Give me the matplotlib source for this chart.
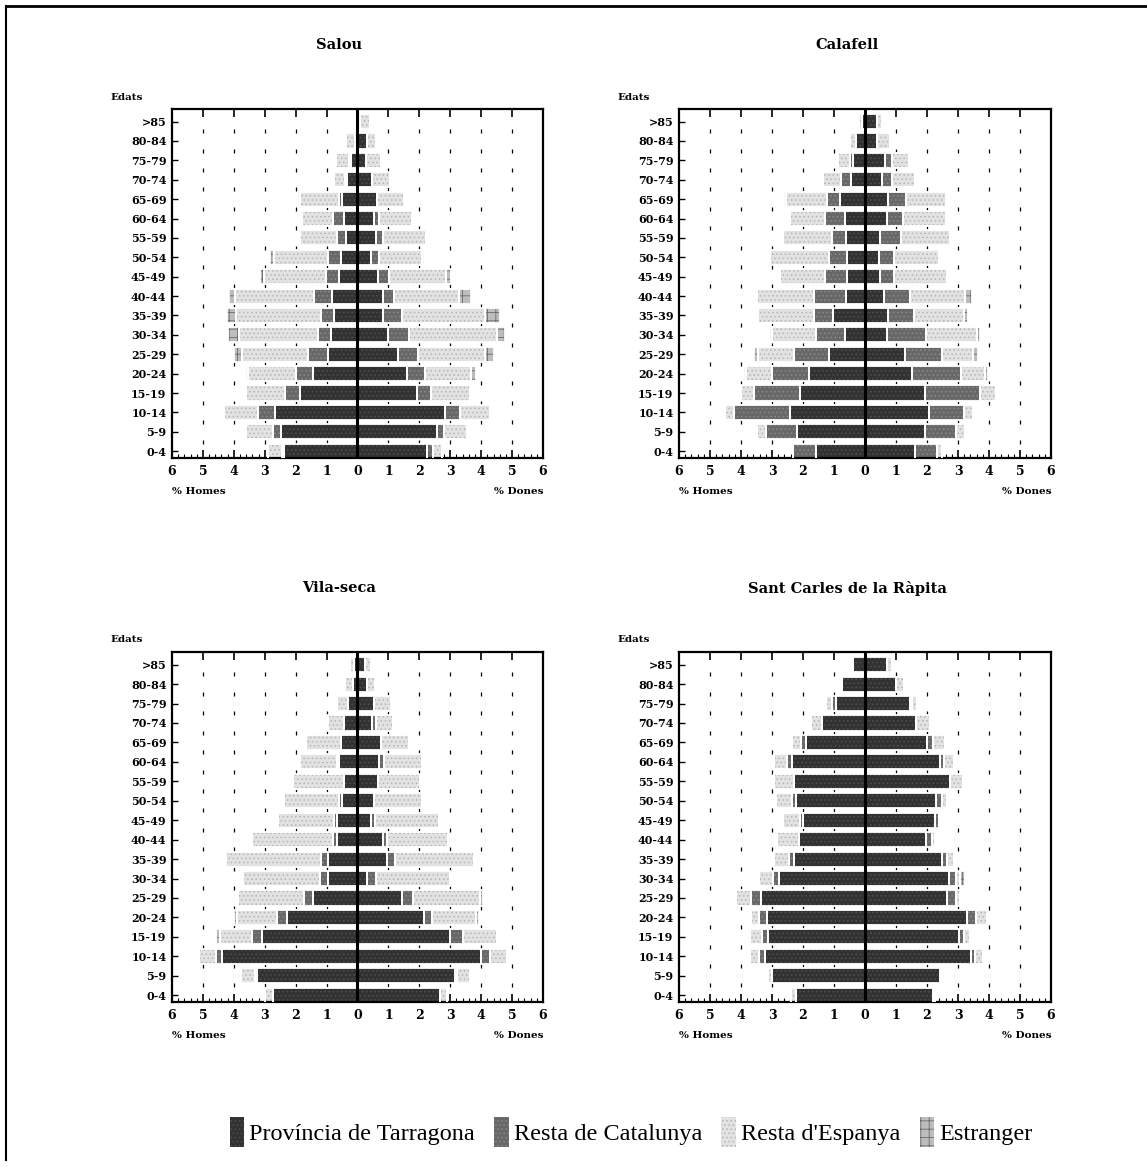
import numpy as np
import matplotlib.pyplot as plt
from matplotlib.patches import Patch
from matplotlib.lines import Line2D

# grups d'edat (de baix a dalt)
ages = ["0-4", "5-9", "10-14", "15-19", "20-24", "25-29", "30-34", "35-39", "40-44",
        "45-49", "50-54", "55-59", "60-64", "65-69", "70-74", "75-79", "80-84", ">85"]

# Salou - homes
salou_h_tarr = [2.37, 2.47, 2.67, 1.85, 1.43, 0.94, 0.86, 0.77, 0.83, 0.61, 0.54, 0.38, 0.43, 0.50, 0.34, 0.20, 0.08, 0.05]
salou_h_cat = [0.08, 0.25, 0.56, 0.49, 0.56, 0.65, 0.41, 0.41, 0.57, 0.41, 0.43, 0.29, 0.37, 0.09, 0.06, 0.09, 0.00, 0.00]
salou_h_esp = [0.45, 0.88, 1.09, 1.26, 1.54, 2.14, 2.55, 2.74, 2.56, 2.01, 1.72, 1.18, 1.00, 1.26, 0.35, 0.41, 0.29, 0.00]
salou_h_estr = [0.00, 0.00, 0.00, 0.00, 0.07, 0.27, 0.37, 0.30, 0.21, 0.11, 0.13, 0.00, 0.00, 0.09, 0.00, 0.00, 0.00, 0.00]
# Salou - dones
salou_d_tarr = [2.26, 2.56, 2.83, 1.94, 1.61, 1.32, 0.99, 0.84, 0.83, 0.67, 0.43, 0.60, 0.54, 0.62, 0.48, 0.27, 0.32, 0.08]
salou_d_cat = [0.19, 0.24, 0.48, 0.45, 0.56, 0.65, 0.69, 0.59, 0.35, 0.35, 0.27, 0.24, 0.16, 0.00, 0.00, 0.00, 0.00, 0.00]
salou_d_esp = [0.29, 0.73, 0.97, 1.24, 1.49, 2.17, 2.84, 2.71, 2.10, 1.83, 1.40, 1.36, 1.05, 0.88, 0.57, 0.50, 0.28, 0.32]
salou_d_estr = [0.00, 0.00, 0.00, 0.00, 0.16, 0.27, 0.26, 0.46, 0.38, 0.16, 0.05, 0.06, 0.00, 0.00, 0.00, 0.00, 0.00, 0.00]

# Calafell - homes
calafell_h_tarr = [1.59, 2.18, 2.42, 2.10, 1.82, 1.16, 0.64, 1.02, 0.62, 0.57, 0.59, 0.62, 0.65, 0.81, 0.44, 0.38, 0.28, 0.09]
calafell_h_cat = [0.73, 1.01, 1.82, 1.47, 1.19, 1.12, 0.95, 0.64, 1.02, 0.72, 0.57, 0.45, 0.65, 0.42, 0.34, 0.10, 0.00, 0.00]
calafell_h_esp = [0.00, 0.30, 0.29, 0.43, 0.83, 1.18, 1.41, 1.80, 1.85, 1.44, 1.89, 1.59, 1.11, 1.32, 0.57, 0.38, 0.20, 0.10]
calafell_h_estr = [0.00, 0.00, 0.00, 0.00, 0.05, 0.13, 0.05, 0.00, 0.03, 0.00, 0.04, 0.00, 0.00, 0.05, 0.00, 0.00, 0.00, 0.00]
# Calafell - dones
calafell_d_tarr = [1.60, 1.92, 2.06, 1.95, 1.52, 1.28, 0.72, 0.75, 0.61, 0.50, 0.45, 0.50, 0.72, 0.74, 0.56, 0.63, 0.40, 0.40]
calafell_d_cat = [0.73, 1.00, 1.12, 1.77, 1.59, 1.19, 1.26, 0.83, 0.84, 0.45, 0.48, 0.65, 0.51, 0.57, 0.32, 0.23, 0.00, 0.00]
calafell_d_esp = [0.14, 0.32, 0.30, 0.51, 0.77, 1.03, 1.63, 1.60, 1.79, 1.68, 1.45, 1.58, 1.37, 1.29, 0.72, 0.55, 0.40, 0.16]
calafell_d_estr = [0.00, 0.00, 0.00, 0.00, 0.09, 0.14, 0.11, 0.13, 0.21, 0.00, 0.00, 0.00, 0.00, 0.05, 0.00, 0.00, 0.00, 0.00]

# Vila-seca - homes
vilaseca_h_tarr = [2.74, 3.26, 4.38, 3.10, 2.28, 1.45, 0.94, 0.97, 0.67, 0.67, 0.51, 0.45, 0.59, 0.52, 0.43, 0.30, 0.16, 0.11]
vilaseca_h_cat = [0.00, 0.07, 0.19, 0.31, 0.32, 0.29, 0.26, 0.21, 0.11, 0.08, 0.10, 0.00, 0.08, 0.00, 0.00, 0.00, 0.00, 0.00]
vilaseca_h_esp = [0.26, 0.43, 0.57, 1.05, 1.29, 2.13, 2.51, 3.07, 2.64, 1.83, 1.78, 1.63, 1.19, 1.13, 0.54, 0.37, 0.24, 0.13]
vilaseca_h_estr = [0.00, 0.00, 0.00, 0.11, 0.09, 0.00, 0.00, 0.00, 0.00, 0.00, 0.00, 0.00, 0.00, 0.00, 0.00, 0.00, 0.00, 0.00]
# Vila-seca - dones
vilaseca_d_tarr = [2.67, 3.14, 4.01, 2.99, 2.15, 1.45, 0.32, 0.95, 0.81, 0.43, 0.54, 0.65, 0.70, 0.75, 0.48, 0.52, 0.30, 0.25]
vilaseca_d_cat = [0.00, 0.09, 0.29, 0.43, 0.25, 0.36, 0.27, 0.27, 0.14, 0.14, 0.00, 0.00, 0.16, 0.00, 0.11, 0.00, 0.00, 0.00]
vilaseca_d_esp = [0.23, 0.40, 0.54, 1.10, 1.42, 2.15, 2.40, 2.54, 1.97, 2.06, 1.56, 1.37, 1.24, 0.90, 0.57, 0.56, 0.27, 0.18]
vilaseca_d_estr = [0.00, 0.00, 0.00, 0.00, 0.10, 0.10, 0.00, 0.00, 0.00, 0.00, 0.00, 0.00, 0.00, 0.00, 0.00, 0.00, 0.00, 0.00]

# Sant Carles de la Ràpita - homes
rapita_h_tarr = [2.23, 3.01, 3.22, 3.12, 3.17, 3.35, 2.77, 2.30, 2.12, 1.99, 2.23, 2.30, 2.36, 1.91, 1.40, 0.94, 0.73, 0.39]
rapita_h_cat = [0.00, 0.00, 0.19, 0.21, 0.24, 0.33, 0.21, 0.14, 0.00, 0.11, 0.11, 0.00, 0.14, 0.16, 0.00, 0.14, 0.00, 0.00]
rapita_h_esp = [0.16, 0.13, 0.29, 0.37, 0.27, 0.48, 0.43, 0.51, 0.73, 0.54, 0.53, 0.63, 0.43, 0.27, 0.35, 0.18, 0.00, 0.05]
rapita_h_estr = [0.00] * 18
# Sant Carles de la Ràpita - dones
rapita_d_tarr = [2.20, 2.43, 3.42, 3.02, 3.29, 2.65, 2.70, 2.49, 1.98, 2.27, 2.30, 2.73, 2.43, 2.00, 1.66, 1.45, 1.01, 0.72]
rapita_d_cat = [0.00, 0.00, 0.14, 0.16, 0.30, 0.30, 0.25, 0.14, 0.19, 0.11, 0.17, 0.00, 0.11, 0.20, 0.00, 0.07, 0.00, 0.00]
rapita_d_esp = [0.07, 0.06, 0.24, 0.22, 0.34, 0.10, 0.10, 0.23, 0.10, 0.05, 0.18, 0.43, 0.34, 0.39, 0.45, 0.16, 0.24, 0.14]
rapita_d_estr = [0.00, 0.00, 0.00, 0.00, 0.00, 0.00, 0.17, 0.00, 0.00, 0.00, 0.00, 0.00, 0.00, 0.00, 0.00, 0.00, 0.00, 0.00]

origins = ["Província de Tarragona", "Resta de Catalunya", "Resta d'Espanya", "Estranger"]
face_cols = ["#323232", "#686868", "#e2e2e2", "#bdbdbd"]
hatch_cols = ["#505050", "#8a8a8a", "#b5b5b5", "#6a6a6a"]
hatches = ["....", "....", "....", "++"]

plt.rcParams['hatch.linewidth'] = 0.6
serif = "DejaVu Serif"

W, H = 1147, 1167
fig = plt.figure(figsize=(W / 100, H / 100), dpi=100)


def px_axes(x0, y0, x1, y1):
    # caixa en píxels (origen a dalt a l'esquerra)
    return fig.add_axes([x0 / W, 1 - y1 / H, (x1 - x0) / W, (y1 - y0) / H])


def pyramid(ax, homes, dones):
    y = np.arange(len(ages))
    cum_h = np.zeros(len(ages))
    cum_d = np.zeros(len(ages))
    for i in range(4):
        vh = np.array(homes[i])
        vd = np.array(dones[i])
        for v, cum, sgn in ((vh, cum_h, -1), (vd, cum_d, 1)):
            ax.barh(y, sgn * v, left=sgn * cum, height=0.78, color=face_cols[i],
                    hatch=hatches[i], edgecolor=hatch_cols[i], linewidth=0, zorder=2)
            ax.barh(y, sgn * v, left=sgn * cum, height=0.78, facecolor="none",
                    edgecolor="white", linewidth=1.3, zorder=3)
        cum_h += vh
        cum_d += vd

    ax.axvline(0, color="black", lw=2.2, zorder=5)
    # marques puntejades de la graella
    for gx in [-5, -4, -3, -2, -1, 1, 2, 3, 4, 5]:
        ax.plot([gx] * (len(ages) - 1), y[:-1] + 0.5, ls="none", marker="|",
                ms=2.6, mew=0.9, color="black", zorder=1)

    ax.set_xlim(-6, 6)
    ax.set_ylim(-0.35, len(ages) - 0.35)
    ax.set_xticks(np.arange(-6, 7))
    ax.set_xticklabels([str(abs(t)) for t in range(-6, 7)], fontfamily=serif,
                       fontweight="bold", fontsize=9)
    ax.set_xticks(np.arange(-6, 6.01, 0.2), minor=True)
    ax.tick_params(axis="x", which="major", direction="in", length=6, width=1.2,
                   top=True, pad=5)
    ax.tick_params(axis="x", which="minor", direction="in", length=3, width=0.8)
    ax.set_yticks(y)
    ax.set_yticklabels(ages, fontfamily=serif, fontweight="bold", fontsize=8)
    ax.tick_params(axis="y", direction="in", length=4, width=1.0, pad=4)
    for s in ax.spines.values():
        s.set_linewidth(1.6)


panels = [
    ("Salou", (172, 109, 543, 458),
     [salou_h_tarr, salou_h_cat, salou_h_esp, salou_h_estr],
     [salou_d_tarr, salou_d_cat, salou_d_esp, salou_d_estr]),
    ("Calafell", (679, 109, 1051, 458),
     [calafell_h_tarr, calafell_h_cat, calafell_h_esp, calafell_h_estr],
     [calafell_d_tarr, calafell_d_cat, calafell_d_esp, calafell_d_estr]),
    ("Vila-seca", (172, 652, 543, 1002),
     [vilaseca_h_tarr, vilaseca_h_cat, vilaseca_h_esp, vilaseca_h_estr],
     [vilaseca_d_tarr, vilaseca_d_cat, vilaseca_d_esp, vilaseca_d_estr]),
    ("Sant Carles de la Ràpita", (679, 652, 1051, 1002),
     [rapita_h_tarr, rapita_h_cat, rapita_h_esp, rapita_h_estr],
     [rapita_d_tarr, rapita_d_cat, rapita_d_esp, rapita_d_estr]),
]

for title, (x0, y0, x1, y1), homes, dones in panels:
    ax = px_axes(x0, y0, x1, y1)
    pyramid(ax, homes, dones)
    cx = (x0 + x1) / 2 - 18
    fig.text(cx / W, 1 - (y0 - 64) / H, title, ha="center", va="center",
             fontfamily=serif, fontweight="bold", fontsize=10.5)
    fig.text((x0 - 62) / W, 1 - (y0 - 12) / H, "Edats", ha="left", va="center",
             fontfamily=serif, fontweight="bold", fontsize=7.5)
    fig.text(x0 / W, 1 - (y1 + 34) / H, "% Homes", ha="left", va="center",
             fontfamily=serif, fontweight="bold", fontsize=7.5)
    fig.text(x1 / W, 1 - (y1 + 34) / H, "% Dones", ha="right", va="center",
             fontfamily=serif, fontweight="bold", fontsize=7.5)

# llegenda
handles = [Patch(facecolor=face_cols[i], hatch=hatches[i], edgecolor=hatch_cols[i],
                 linewidth=0) for i in range(4)]
fig.legend(handles, origins, loc="center", bbox_to_anchor=(631 / W, 1 - 1132 / H),
           ncol=4, frameon=False, handlelength=0.6, handleheight=1.5,
           handletextpad=0.2, columnspacing=0.8,
           prop={"family": "Liberation Serif", "size": 17.5})

# marc de la pàgina escanejada
fig.add_artist(Line2D([6 / W, 1], [1 - 6 / H, 1 - 6 / H], color="black", lw=2))
fig.add_artist(Line2D([6 / W, 6 / W], [1 - 6 / H, 1 - 1160 / H], color="black", lw=1.5))

fig.savefig("out.png", dpi=100)
